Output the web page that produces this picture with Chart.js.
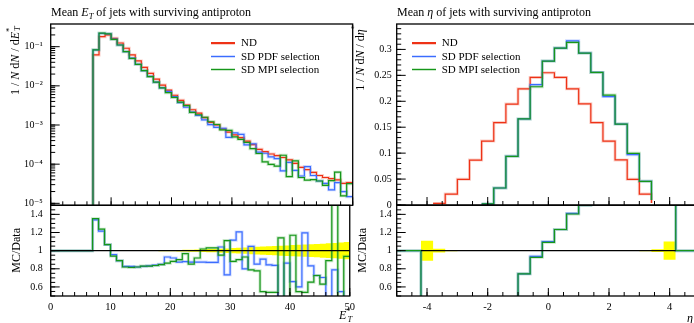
<!DOCTYPE html>
<html>
<head>
<meta charset="utf-8">
<script src="https://cdn.jsdelivr.net/npm/chart.js@4.4.1/dist/chart.umd.min.js"></script>
<style>
    html, body { margin: 0; padding: 0; width: 694px; height: 323px; overflow: hidden; background: #fff; }
    body { position: relative; font-family: "Liberation Serif", "DejaVu Serif", serif; color: #000; }
    canvas { position: absolute; top: 0; }
    .txt { position: absolute; white-space: nowrap; line-height: 1; }
    .txt sub, .txt sup, .vlab sub, .vlab sup { font-size: 70%; line-height: 0; }
    sup + sub { margin-inline-start: -0.35em; }
    .vlab { position: absolute; writing-mode: vertical-rl; transform: rotate(180deg); white-space: nowrap; line-height: 14px; font-size: 12px; }
    .lg { position: absolute; height: 4px; }
    .lg .halo { position: absolute; left: 0; right: 0; top: 0.5px; height: 3px; }
    .lg .ln { position: absolute; left: 0; right: 0; top: 1.3px; height: 1.4px; }
    .lgt { position: absolute; font-size: 11px; line-height: 1; white-space: nowrap; }
</style>
</head>
<body>
<canvas id="etMain" width="360" height="323" style="left:0"></canvas>
<canvas id="etRatio" width="360" height="323" style="left:0"></canvas>
<canvas id="etaMain" width="365" height="323" style="left:345px"></canvas>
<canvas id="etaRatio" width="365" height="323" style="left:345px"></canvas>

<div class="txt" style="left:51px; top:6px; font-size:12px">Mean <i>E<sub>T</sub></i> of jets with surviving antiproton</div>
<div class="txt" style="left:397px; top:6px; font-size:12px">Mean <i>η</i> of jets with surviving antiproton</div>

<div class="vlab" style="left:8px; top:26px">1 / <i>N</i> d<i>N</i> / d<i>E</i><sup>*</sup><sub><i>T</i></sub></div>
<div class="vlab" style="left:9px; top:228px">MC/Data</div>
<div class="vlab" style="left:353px; top:25px">1 / <i>N</i> d<i>N</i> / d<i>η</i><sup>*</sup></div>
<div class="vlab" style="left:355px; top:228px">MC/Data</div>

<div class="txt" style="left:339px; top:309px; font-size:12px"><i>E</i><sup>*</sup><sub><i>T</i></sub></div>
<div class="txt" style="left:687px; top:312px; font-size:12px"><i>η</i></div>

<div id="legends"></div>

<script>
// =========================
// DATA
// =========================
// transverse energy bins (GeV), first bin is empty (below the cut)
const etEdges = [6,7,8,9,10,11,12,13,14,15,16,17,18,19,20,21,22,23,24,25,26,27,28,29,30,31,32,33,34,35,36,37,38,39,40,41,42,43,44,45,46,47,48,49,50];
const ndEt = [1e-9, 0.0617, 0.180, 0.1995, 0.1637, 0.1242, 0.0912, 0.0617, 0.0432, 0.0295, 0.0209, 0.0148, 0.0105,
    0.00776, 0.00575, 0.00427, 0.00324, 0.00245, 0.00200, 0.00155, 0.00117, 0.00100, 0.000794, 0.000661, 0.000562,
    0.000479, 0.000389, 0.000316, 0.000240, 0.000209, 0.000182, 0.000166, 0.000148, 0.000129, 0.000105, 0.0000832,
    0.0000724, 0.0000617, 0.0000513, 0.0000457, 0.0000427, 0.0000398, 0.0000324, 0.0000339];
const pdfEt = [1e-9, 0.0826, 0.2188, 0.2128, 0.1563, 0.1104, 0.0753, 0.0509, 0.0354, 0.0244, 0.0174, 0.0124, 0.00889,
    0.00721, 0.00528, 0.00373, 0.00284, 0.00215, 0.00175, 0.00136, 0.00102, 0.000871, 0.000826, 0.000484, 0.000627,
    0.000578, 0.000311, 0.000331, 0.000204, 0.000190, 0.000153, 0.000139, 0.0000675, 0.000111, 0.0000690, 0.0000499,
    0.0000867, 0.0000514, 0.0000372, 0.0000322, 0.0000221, 0.0000339, 0.0000200, 0.0000148];
const mpiEt = [1e-9, 0.0834, 0.2223, 0.2128, 0.1538, 0.1104, 0.0748, 0.0502, 0.0354, 0.0245, 0.0173, 0.0124, 0.00887,
    0.00670, 0.00507, 0.00384, 0.00313, 0.00209, 0.00183, 0.00158, 0.00121, 0.00103, 0.000755, 0.000733, 0.000495,
    0.000431, 0.000361, 0.000249, 0.000187, 0.000115, 0.0000984, 0.0000895, 0.000169, 0.0000483, 0.000122, 0.0000456,
    0.0000392, 0.0000402, 0.0000372, 0.0000288, 0.0000379, 0.0000624, 0.0000155, 0.0000318];

// ratio to ND, first wide bin (0-7) has no entries
const etRatioEdges = [0,7,8,9,10,11,12,13,14,15,16,17,18,19,20,21,22,23,24,25,26,27,28,29,30,31,32,33,34,35,36,37,38,39,40,41,42,43,44,45,46,47,48,49,50];
const pdfEtRatio = [1, 1.34, 1.215, 1.067, 0.956, 0.889, 0.826, 0.826, 0.82, 0.826, 0.833, 0.84, 0.85, 0.93, 0.919,
    0.874, 0.88, 0.874, 0.874, 0.874, 0.87, 0.87, 1.04, 0.733, 1.115, 1.207, 0.80, 1.048, 0.852, 0.907, 0.844, 0.837,
    0.45, 0.863, 0.659, 0.60, 1.196, 0.833, 0.726, 0.704, 0.42, 0.789, 0.548, 0.44];
const mpiEtRatio = [1, 1.352, 1.237, 1.067, 0.94, 0.889, 0.82, 0.815, 0.82, 0.83, 0.83, 0.836, 0.847, 0.862, 0.881,
    0.90, 0.967, 0.852, 0.919, 1.018, 1.03, 1.03, 0.95, 1.111, 0.881, 0.90, 0.93, 0.789, 0.778, 0.548, 0.541, 0.54,
    1.141, 0.45, 1.17, 0.548, 0.541, 0.652, 0.726, 0.63, 0.889, 1.8, 0.47, 0.937];
// half width of the ND uncertainty band, bins 7..49
const etBand = [0.004, 0.003, 0.003, 0.003, 0.003, 0.003, 0.004, 0.004, 0.004, 0.005, 0.005, 0.006, 0.006, 0.007,
    0.008, 0.009, 0.011, 0.013, 0.015, 0.017, 0.019, 0.022, 0.025, 0.028, 0.031, 0.035, 0.039, 0.043, 0.046, 0.049,
    0.052, 0.055, 0.058, 0.061, 0.064, 0.067, 0.07, 0.073, 0.077, 0.081, 0.085, 0.089, 0.094];

// pseudorapidity bins
const etaEdges = [-4.2,-3.8,-3.4,-3,-2.6,-2.2,-1.8,-1.4,-1,-0.6,-0.2,0.2,0.6,1,1.4,1.8,2.2,2.6,3,3.4,3.8,4.2];
const ndEta = [null, 0.003, 0.021, 0.0495, 0.0867, 0.1233, 0.159, 0.1946, 0.224, 0.246, 0.255, 0.246, 0.224, 0.195,
    0.159, 0.123, 0.087, 0.0495, 0.021, 0.004, null];
const pdfEta = [null, null, null, null, null, 0.002, 0.0328, 0.0938, 0.166, 0.232, 0.2775, 0.3025, 0.3166, 0.293,
    0.2556, 0.209, 0.156, 0.097, 0.0456, 0.0096, null];
const mpiEta = [null, null, null, null, null, 0.002, 0.0328, 0.0938, 0.166, 0.228, 0.2775, 0.3025, 0.3134, 0.293,
    0.2556, 0.212, 0.156, 0.0996, 0.0456, 0.0096, null];

const etaRatioEdges = [-5,-4.2,-3.8,-3.4,-3,-2.6,-2.2,-1.8,-1.4,-1,-0.6,-0.2,0.2,0.6,1,1.4,1.8,2.2,2.6,3,3.4,3.8,4.2,5];
const pdfEtaRatio = [1, 0, 0, 0, 0, 0, 0.02, 0.21, 0.48, 0.744, 0.937, 1.10, 1.233, 1.41, 1.5, 1.61, 1.7, 1.79,
    1.95, 2.2, 2.4, 2.5, 1];
const mpiEtaRatio = [1, 0, 0, 0, 0, 0, 0.02, 0.21, 0.48, 0.744, 0.926, 1.092, 1.233, 1.404, 1.5, 1.61, 1.72, 1.79,
    2.0, 2.2, 2.4, 2.5, 1];
const etaBand = [0.11, 0.02, 0.006, 0.004, 0.003, 0.003, 0.003, 0.002, 0.002, 0.002, 0.002, 0.002, 0.002, 0.002,
    0.002, 0.003, 0.003, 0.004, 0.006, 0.015, 0.1];

// ticks
const etTicks = [0, 10, 20, 30, 40, 50];
const logTicks = [1e-5, 1e-4, 1e-3, 1e-2, 1e-1];
const logTickLabels = ['10⁻⁵', '10⁻⁴', '10⁻³', '10⁻²', '10⁻¹'];
const ratioTicks = [0.6, 0.8, 1, 1.2, 1.4];
const ratioTickLabels = ['0.6', '0.8', '1', '1.2', '1.4'];
const etaTicks = [-4, -2, 0, 2, 4];
const etaYTicks = [0, 0.05, 0.1, 0.15, 0.2, 0.25, 0.3];
const etaYTickLabels = ['0', '0.05', '0.1', '0.15', '0.2', '0.25', '0.3'];

const series = [
    { name: 'ND', color: '#ee3216', light: 'rgba(240,120,100,0.35)' },
    { name: 'SD PDF selection', color: '#3b6cff', light: 'rgba(120,155,255,0.35)' },
    { name: 'SD MPI selection', color: '#16961a', light: 'rgba(100,190,100,0.35)' }
];

document.addEventListener("DOMContentLoaded", () => {

    Chart.defaults.font.family = '"Liberation Serif", "DejaVu Serif", serif';
    Chart.defaults.color = '#000';

    // =========================
    // HELPERS
    // =========================
    function steps(edges, values) {
        const pts = values.map((v, i) => ({ x: edges[i], y: v }));
        pts.push({ x: edges[values.length], y: values[values.length - 1] });
        return pts;
    }

    function histo(edges, values, s, order) {
        return [
            { data: steps(edges, values), borderColor: s.light, borderWidth: 3, stepped: true,
              pointRadius: 0, fill: false, order: order + 10 },
            { data: steps(edges, values), borderColor: s.color, borderWidth: 1.2, stepped: true,
              pointRadius: 0, fill: false, order: order }
        ];
    }

    function band(edges, widths) {
        return [
            { data: steps(edges, widths.map(w => 1 + w)), backgroundColor: '#ffff00', borderWidth: 0,
              stepped: true, pointRadius: 0, fill: '+1', order: 30 },
            { data: steps(edges, widths.map(w => 1 - w)), borderWidth: 0, stepped: true,
              pointRadius: 0, fill: false, order: 31 }
        ];
    }

    function refLine(x0, x1) {
        return { data: [{ x: x0, y: 1 }, { x: x1, y: 1 }], borderColor: '#000', borderWidth: 1.1,
                 pointRadius: 0, fill: false, order: 0 };
    }

    function minorTicks(a, b, step) {
        const out = [];
        for (let v = a; v <= b + 1e-9; v += step) out.push(+v.toFixed(4));
        return out;
    }

    const logMinor = [];
    [-6, -5, -4, -3, -2, -1].forEach(k => {
        for (let m = 1; m <= 9; m++) logMinor.push(m * Math.pow(10, k));
    });

    // frame and inward tick marks
    const framePlugin = {
        id: 'frame',
        afterDatasetsDraw(chart, args, opts) {
            const { ctx, chartArea: a, scales } = chart;
            ctx.save();
            ctx.strokeStyle = '#000';
            ctx.lineWidth = 1;
            ctx.beginPath();
            const drawX = (vals, len) => vals.forEach(v => {
                const p = scales.x.getPixelForValue(v);
                if (p < a.left - 0.5 || p > a.right + 0.5) return;
                ctx.moveTo(p, a.bottom); ctx.lineTo(p, a.bottom - len);
            });
            const drawY = (vals, len) => vals.forEach(v => {
                const p = scales.y.getPixelForValue(v);
                if (p < a.top - 0.5 || p > a.bottom + 0.5) return;
                ctx.moveTo(a.left, p); ctx.lineTo(a.left + len, p);
            });
            drawX(opts.xMinor, 4);
            drawX(opts.xMajor, 8);
            drawY(opts.yMinor, 4.5);
            drawY(opts.yMajor, 9);
            ctx.stroke();
            ctx.lineWidth = 1.3;
            ctx.strokeRect(a.left, a.top, a.right - a.left, a.bottom - a.top);
            ctx.restore();
        }
    };

    const noGrid = { display: false, drawTicks: false };
    const fixTicks = (vals) => (scale) => { scale.ticks = vals.map(v => ({ value: v })); };

    function makeChart(id, datasets, pad, yAxisWidth, xAxis, yAxis, frame) {
        return new Chart(document.getElementById(id), {
            type: 'line',
            data: { datasets },
            options: {
                responsive: false,
                animation: false,
                devicePixelRatio: 1,
                layout: { padding: pad },
                plugins: { legend: { display: false }, tooltip: { enabled: false }, frame },
                scales: {
                    x: xAxis,
                    y: Object.assign({ afterFit: s => { s.width = yAxisWidth; } }, yAxis)
                }
            },
            plugins: [framePlugin]
        });
    }

    // =========================
    // LEFT PANEL: E_T
    // =========================
    makeChart('etMain',
        [...histo(etEdges, ndEt, series[0], 3), ...histo(etEdges, pdfEt, series[1], 2), ...histo(etEdges, mpiEt, series[2], 1)],
        { left: 0, right: 7.3, top: 24, bottom: 117.7 }, 50.7,
        { type: 'linear', min: 0, max: 50, display: false },
        { type: 'logarithmic', min: 8.9e-6, max: 0.38, grid: noGrid, border: { display: false },
          afterBuildTicks: fixTicks(logTicks),
          ticks: { autoSkip: false, padding: 8, font: { size: 10 },
                   callback: v => logTickLabels[logTicks.indexOf(v)] } },
        { xMajor: etTicks, xMinor: minorTicks(0, 50, 2), yMajor: logTicks, yMinor: logMinor });

    makeChart('etRatio',
        [...band(etEdges.slice(1), etBand), refLine(0, 50),
         ...histo(etRatioEdges, pdfEtRatio, series[1], 2), ...histo(etRatioEdges, mpiEtRatio, series[2], 1)],
        { left: 0, right: 7.3, top: 205.3, bottom: 0 }, 50.7,
        { type: 'linear', min: 0, max: 50, grid: noGrid, border: { display: false },
          afterFit: s => { s.height = 27; },
          afterBuildTicks: fixTicks(etTicks),
          ticks: { autoSkip: false, maxRotation: 0, padding: 5, font: { size: 10.5 } } },
        { type: 'linear', min: 0.5, max: 1.5, grid: noGrid, border: { display: false },
          afterBuildTicks: fixTicks(ratioTicks),
          ticks: { autoSkip: false, padding: 8, font: { size: 10 },
                   callback: v => ratioTickLabels[ratioTicks.indexOf(v)] } },
        { xMajor: etTicks, xMinor: minorTicks(0, 50, 2), yMajor: ratioTicks, yMinor: minorTicks(0.5, 1.5, 0.05) });

    // =========================
    // RIGHT PANEL: eta
    // =========================
    makeChart('etaMain',
        [...histo(etaEdges, ndEta, series[0], 3), ...histo(etaEdges, pdfEta, series[1], 2), ...histo(etaEdges, mpiEta, series[2], 1)],
        { left: 0, right: 10, top: 24, bottom: 118 }, 51.7,
        { type: 'linear', min: -5, max: 5, display: false },
        { type: 'linear', min: 0, max: 0.349, grid: noGrid, border: { display: false },
          afterBuildTicks: fixTicks(etaYTicks),
          ticks: { autoSkip: false, padding: 5, font: { size: 10 },
                   callback: v => etaYTickLabels[etaYTicks.indexOf(v)] } },
        { xMajor: etaTicks, xMinor: minorTicks(-5, 5, 0.5), yMajor: etaYTicks, yMinor: minorTicks(0, 0.35, 0.01) });

    makeChart('etaRatio',
        [...band(etaEdges, etaBand), refLine(-4.2, 4.2),
         ...histo(etaRatioEdges, pdfEtaRatio, series[1], 2), ...histo(etaRatioEdges, mpiEtaRatio, series[2], 1)],
        { left: 0, right: 10, top: 205.3, bottom: 0 }, 51.7,
        { type: 'linear', min: -5, max: 5, grid: noGrid, border: { display: false },
          afterFit: s => { s.height = 27; },
          afterBuildTicks: fixTicks(etaTicks),
          ticks: { autoSkip: false, maxRotation: 0, padding: 5, font: { size: 10.5 } } },
        { type: 'linear', min: 0.5, max: 1.5, grid: noGrid, border: { display: false },
          afterBuildTicks: fixTicks(ratioTicks),
          ticks: { autoSkip: false, padding: 5, font: { size: 10 },
                   callback: v => ratioTickLabels[ratioTicks.indexOf(v)] } },
        { xMajor: etaTicks, xMinor: minorTicks(-5, 5, 0.5), yMajor: ratioTicks, yMinor: minorTicks(0.5, 1.5, 0.05) });

    // =========================
    // LEGENDS
    // =========================
    const holder = document.getElementById('legends');
    const rows = [43, 56.5, 69.5];
    [[211, 241], [411.7, 441.7]].forEach(([lineX, textX]) => {
        series.forEach((s, i) => {
            const l = document.createElement('div');
            l.className = 'lg';
            l.style.left = lineX + 'px';
            l.style.width = '24px';
            l.style.top = (rows[i] - 2) + 'px';
            l.innerHTML = `<div class="halo" style="background:${s.light}"></div><div class="ln" style="background:${s.color}"></div>`;
            holder.appendChild(l);
            const t = document.createElement('div');
            t.className = 'lgt';
            t.style.left = textX + 'px';
            t.style.top = (rows[i] - 6) + 'px';
            t.textContent = s.name;
            holder.appendChild(t);
        });
    });
});
</script>
</body>
</html>
